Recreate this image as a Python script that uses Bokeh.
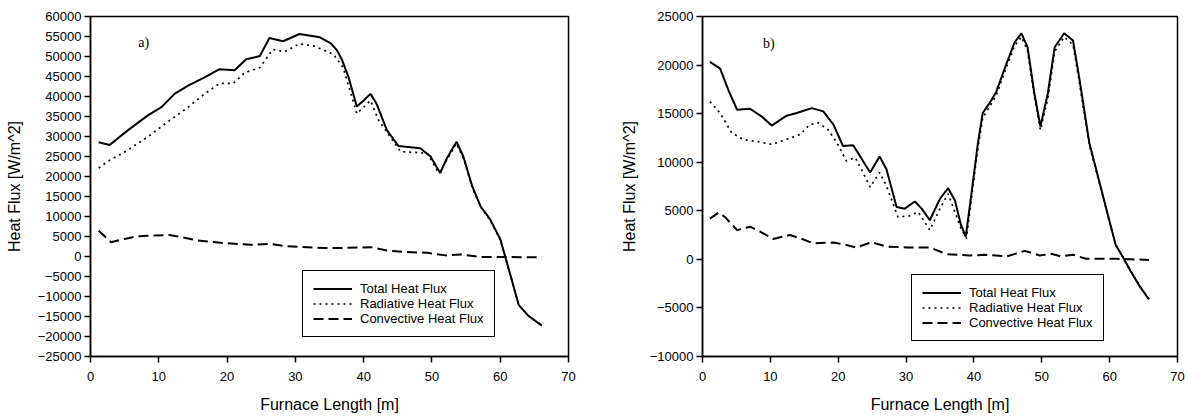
from bokeh.plotting import figure
from bokeh.layouts import row
from bokeh.models import Range1d, FixedTicker, Legend, LegendItem, Label
from bokeh.embed import file_html
from bokeh.resources import INLINE

# ---------------- data ----------------
x_ticks = [0, 10, 20, 30, 40, 50, 60, 70]
ya_ticks = [-25000, -20000, -15000, -10000, -5000, 0, 5000, 10000, 15000, 20000,
            25000, 30000, 35000, 40000, 45000, 50000, 55000, 60000]
yb_ticks = [-10000, -5000, 0, 5000, 10000, 15000, 20000, 25000]

series_names = ["Total Heat Flux", "Radiative Heat Flux", "Convective Heat Flux"]

# panel a)
xa_total = [1.2, 2.8, 5.5, 8.4, 10.4, 12.3, 14.3, 16.7, 18.9, 21.1, 22.8, 24.8, 26.2, 28.2, 30.6,
            33.6, 35.2, 36.1, 36.8, 37.8, 39.0, 40.0, 41.0, 41.9, 43.4, 45.1, 48.3, 49.8, 51.2,
            52.2, 53.6, 54.6, 55.9, 57.1, 58.5, 60.0, 61.5, 62.7, 64.2, 66.1]
ya_total = [28540, 27880, 31600, 35290, 37340, 40650, 42700, 44760, 46830, 46580, 49300, 50120,
            54640, 53820, 55630, 54800, 53300, 51520, 49300, 44760, 37510, 39000, 40650, 38180,
            31580, 27630, 27060, 24990, 20880, 24590, 28690, 24990, 17570, 12630, 9340, 4400,
            -4670, -12080, -14950, -17270]

xa_rad = [1.2, 2.5, 5.5, 8.4, 11.3, 14.3, 16.7, 18.9, 20.9, 22.6, 24.8, 26.7, 28.4, 30.6, 32.8,
          35.6, 37.0, 39.0, 41.0, 42.2, 45.4, 49.3, 51.0, 52.2, 53.6, 54.6, 55.9, 57.1, 58.5,
          60.0, 61.5, 62.7, 64.2, 66.1]
ya_rad = [22120, 23750, 26640, 29930, 33630, 37340, 40650, 43270, 43270, 45990, 47220, 51770,
          51180, 53160, 52590, 50530, 47220, 35700, 39000, 34050, 26230, 25830, 20880, 24200,
          28300, 24600, 17300, 12500, 9100, 4200, -4700, -12100, -14900, -17150]

xa_conv = [1.2, 3.0, 5.0, 6.9, 9.4, 11.6, 13.3, 15.7, 19.1, 23.5, 26.2, 28.4, 34.3, 36.6, 41.0,
           43.4, 46.3, 49.3, 52.0, 54.2, 57.1, 61.0, 66.1]
ya_conv = [6450, 3580, 4400, 5070, 5230, 5390, 4820, 3990, 3410, 2920, 3170, 2590, 2100, 2100,
           2340, 1500, 1110, 940, 280, 530, -130, -130, -200]

# panel b)
xb_total = [1.1, 2.6, 3.8, 5.1, 7.0, 8.7, 10.2, 12.4, 13.9, 16.1, 17.8, 19.3, 20.7, 22.2, 23.2,
            24.7, 26.1, 27.1, 28.6, 29.8, 31.3, 32.3, 33.5, 35.0, 36.2, 37.2, 38.1, 38.8, 39.6,
            40.6, 41.3, 42.3, 43.3, 44.8, 46.0, 47.0, 47.9, 48.9, 49.8, 50.9, 51.9, 53.3, 54.6,
            55.5, 57.0, 58.5, 60.0, 60.9, 61.9, 63.1, 64.4, 65.8]
yb_total = [20320, 19640, 17440, 15400, 15500, 14720, 13770, 14790, 15060, 15570, 15230, 13870,
            11670, 11740, 10650, 8950, 10590, 9300, 5390, 5220, 5960, 5220, 4030, 6240, 7330,
            6070, 3520, 2340, 6570, 12010, 15070, 16080, 17260, 20150, 22350, 23270, 21840,
            17100, 13700, 17100, 21840, 23270, 22530, 18790, 12010, 7940, 3870, 1480, 300,
            -1220, -2750, -4120]

xb_rad = [1.1, 2.6, 4.3, 6.0, 8.5, 10.2, 12.4, 14.4, 15.8, 17.1, 18.5, 19.8, 21.2, 22.5, 23.4,
          24.7, 26.1, 27.1, 28.8, 30.5, 31.8, 33.5, 35.0, 36.2, 38.1, 38.9, 39.6, 40.6, 41.3,
          42.3, 43.3, 44.8, 46.0, 47.0, 47.9, 48.9, 49.8, 50.9, 51.9, 53.3, 54.6, 55.5, 57.0,
          58.5, 60.0, 60.9, 61.9, 63.1, 64.4, 65.8]
yb_rad = [16240, 15060, 13030, 12350, 12070, 11840, 12350, 12860, 13870, 14050, 13360, 12010,
          10140, 10480, 9300, 7430, 8950, 7590, 4370, 4480, 4880, 3010, 5220, 6750, 3180, 2160,
          6100, 11500, 14600, 15700, 16900, 19800, 22000, 22900, 21500, 16800, 13300, 16600,
          21400, 22900, 22100, 18400, 11800, 7800, 3800, 1450, 300, -1200, -2700, -4100]

xb_conv = [1.1, 2.35, 3.3, 5.1, 7.0, 8.5, 10.4, 12.9, 14.4, 16.3, 19.3, 21.2, 22.7, 24.9, 27.1,
           30.1, 33.5, 35.0, 35.9, 39.4, 41.6, 44.8, 47.5, 49.7, 51.4, 52.8, 54.6, 56.5, 60.9,
           65.8]
yb_conv = [4200, 4810, 4370, 3010, 3360, 2850, 2100, 2500, 2170, 1660, 1730, 1480, 1220, 1760,
           1320, 1220, 1220, 810, 540, 400, 470, 300, 870, 400, 570, 300, 470, 60, 60, -60]

SANS = "Liberation Sans"
SERIF = "Liberation Serif"
FIG_H = 415


def make_panel(width, yr, yticks, borders, series, tag, tag_pos, legend_loc, ylabel_standoff):
    left, right, top, bottom = borders
    p = figure(width=width, height=FIG_H, x_range=Range1d(0, 70), y_range=Range1d(*yr),
               output_backend="svg", toolbar_location=None,
               min_border_left=left, min_border_right=right,
               min_border_top=top, min_border_bottom=bottom)
    p.grid.visible = False
    p.background_fill_color = "white"
    p.border_fill_color = "white"
    p.outline_line_color = "black"
    p.outline_line_width = 1.5
    p.outline_line_alpha = 1

    p.xaxis.ticker = FixedTicker(ticks=x_ticks)
    p.yaxis.ticker = FixedTicker(ticks=yticks)
    p.xaxis.axis_label = "Furnace Length [m]"
    p.yaxis.axis_label = "Heat Flux [W/m^2]"
    for ax in (p.xaxis[0], p.yaxis[0]):
        ax.axis_line_color = "black"
        ax.axis_line_width = 1.5
        ax.major_tick_line_color = "black"
        ax.major_tick_line_width = 1.5
        ax.major_tick_out = 6
        ax.major_tick_in = 0
        ax.minor_tick_out = 0
        ax.minor_tick_in = 0
        ax.major_label_text_font = SANS
        ax.major_label_text_font_size = "13px"
        ax.major_label_text_color = "black"
        ax.axis_label_text_font = SANS
        ax.axis_label_text_font_size = "16px"
        ax.axis_label_text_font_style = "normal"
        ax.axis_label_text_color = "black"
    p.xaxis.major_label_standoff = 9
    p.xaxis.axis_label_standoff = 12
    p.yaxis.major_label_standoff = 3
    p.yaxis.axis_label_standoff = ylabel_standoff

    (xt, yt), (xr, yr_), (xc, yc) = series
    r_total = p.line(xt, yt, line_color="black", line_width=2)
    r_rad = p.line(xr, yr_, line_color="black", line_width=1.7, line_dash="2 4")
    r_conv = p.line(xc, yc, line_color="black", line_width=2, line_dash="10 5")

    legend = Legend(items=[LegendItem(label=series_names[0], renderers=[r_total]),
                           LegendItem(label=series_names[1], renderers=[r_rad]),
                           LegendItem(label=series_names[2], renderers=[r_conv])],
                    location=legend_loc)
    legend.border_line_color = "black"
    legend.border_line_width = 1.2
    legend.border_line_alpha = 1
    legend.background_fill_color = "white"
    legend.background_fill_alpha = 1
    legend.label_text_font = SANS
    legend.label_text_font_size = "13px"
    legend.label_text_color = "black"
    legend.glyph_width = 39
    legend.glyph_height = 15
    legend.label_height = 15
    legend.spacing = 0
    legend.padding = 10
    legend.margin = 0
    legend.label_standoff = 8
    p.add_layout(legend)

    p.add_layout(Label(x=tag_pos[0], y=tag_pos[1], text=tag, text_font=SERIF,
                       text_font_size="14px", text_baseline="middle", text_align="left",
                       text_color="black"))
    return p


pa = make_panel(600, (-25000, 60000), ya_ticks, (90, 32, 15, FIG_H - 359),
                ((xa_total, ya_total), (xa_rad, ya_rad), (xa_conv, ya_conv)),
                "a)", (7.0, 53500), (212, 19), 12)
pb = make_panel(591, (-10000, 25000), yb_ticks, (102, 14, 16, FIG_H - 359),
                ((xb_total, yb_total), (xb_rad, yb_rad), (xb_conv, yb_conv)),
                "b)", (8.9, 22270), (209, 15), 9)

layout = row(pa, pb, spacing=0)
open("out.html", "w").write(file_html(layout, INLINE))
